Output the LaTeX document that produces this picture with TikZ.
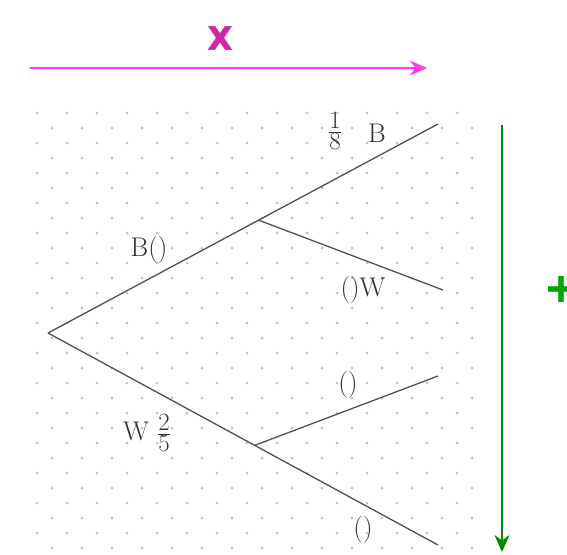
\documentclass[tikz,border=0pt]{standalone}
\usepackage{fontspec}
\usetikzlibrary{calc,arrows.meta}
\newfontfamily\heavyfont[FakeBold=2]{DejaVu Sans Bold}
\definecolor{magline}{RGB}{255,60,235}
\definecolor{magtext}{RGB}{205,40,170}
\definecolor{grnline}{RGB}{0,140,0}
\definecolor{grntext}{RGB}{0,165,0}
\definecolor{branch}{RGB}{80,80,80}
\newcommand{\bigfracsize}{\fontsize{36}{36}\selectfont}
\tikzset{
  branchline/.style={draw=branch,line width=1.3pt},
  lab/.style={text=black!80,font=\fontsize{27}{30}\selectfont,inner sep=0pt},
  dotmark/.style={fill=black!25},
}
\begin{document}
\begin{tikzpicture}[x=1pt,y=-1pt]
\useasboundingbox (0,0) rectangle (567,554);
\clip (0,0) rectangle (567,554);
% dot grid
\foreach \a in {0,...,14}{
  \foreach \b in {0,...,14}{
    \fill[dotmark] (37+30*\a,113+30*\b) circle (1.5);
    \fill[dotmark] (52+30*\a,128+30*\b) circle (1.5);
  }
}
% tree
\coordinate (root) at (48,333);
\coordinate (e1) at (438,124);
\coordinate (e4) at (438,545);
\coordinate (e2) at (443,290);
\coordinate (e3) at (438,376);
\coordinate (j1) at ($(root)!0.54!(e1)$);
\coordinate (j2) at ($(root)!0.53!(e4)$);
\draw[branchline] (root) -- (e1);
\draw[branchline] (root) -- (e4);
\draw[branchline] (j1) -- (e2);
\draw[branchline] (j2) -- (e3);
% labels
\node[lab] (f1) at (335,131) {\bigfracsize$\frac{1}{8}$};
\node[lab] (lb1) at (377,133) {B};
\node[lab] (lb2) at (149,250) {B()};
\node[lab] (lw1) at (363,290) {()W};
\node[lab] (lp1) at (348,385) {()};
\node[lab] (lw2) at (147,433) {W {\bigfracsize$\frac{2}{5}$}};
\node[lab] (lp2) at (363,530) {()};
% magenta axis
\coordinate (ms) at (30,68);
\coordinate (me) at (427,68);
\draw[magline,line width=2.2pt,-{Stealth[length=17pt,width=15pt]}] (ms) -- (me);
\node[text=magtext,font=\heavyfont\fontsize{32}{33}\selectfont,inner sep=0pt] (xl) at (220,38) {X};
% green axis
\coordinate (gs) at (502,125);
\coordinate (ge) at (502,552);
\draw[grnline,line width=2.2pt,-{Stealth[length=17pt,width=15pt]}] (gs) -- (ge);
\node[text=grntext,font=\heavyfont\fontsize{40}{40}\selectfont,inner sep=0pt] (pl) at (561,289) {+};
\end{tikzpicture}
\end{document}
